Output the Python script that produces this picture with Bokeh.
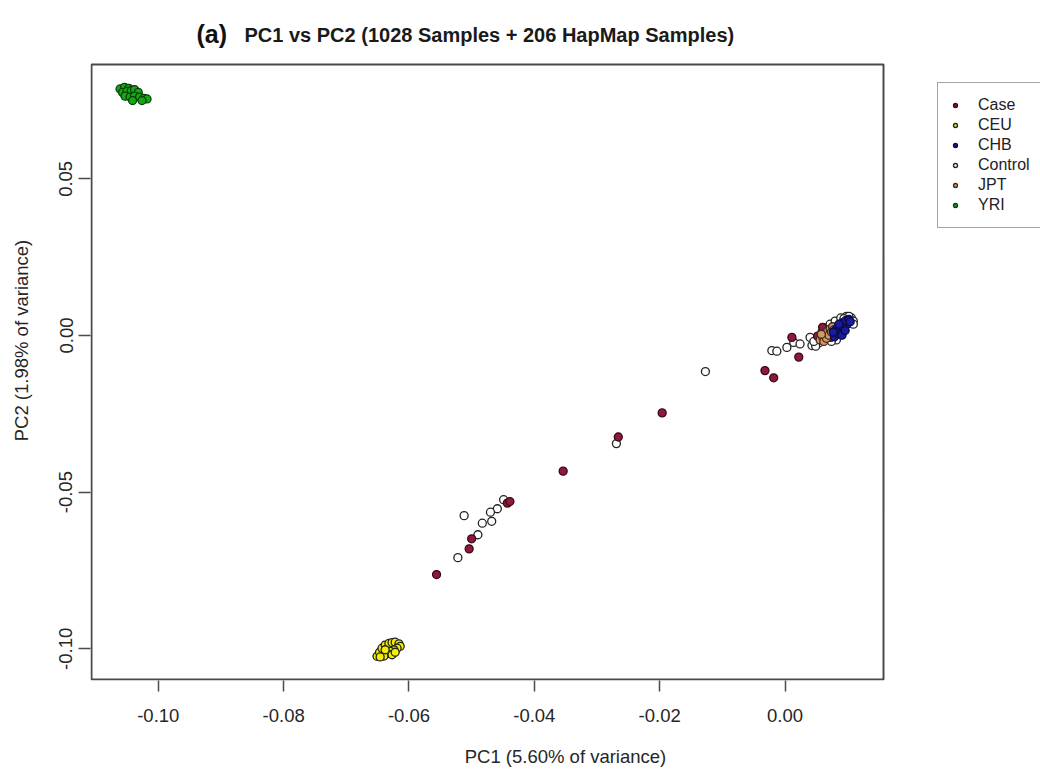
from bokeh.plotting import figure
from bokeh.models import Range1d, Legend, LegendItem, FixedTicker, BoxAnnotation, Label
from bokeh.embed import file_html
from bokeh.resources import INLINE

# ---------------- data ----------------
control_pc1 = [-0.0269, -0.0449, -0.0459, -0.0470, -0.0512, -0.0483, -0.0468, -0.0490, -0.0522, -0.0127,
               -0.0021, -0.0013, 0.0003, 0.0014, 0.0024, 0.0040, 0.0043, 0.0051,
               0.0054, 0.0059, 0.0064, 0.0072, 0.0080, 0.0089, 0.0098, 0.0106, 0.0109, 0.0109,
               0.0102, 0.0094, 0.0082, 0.0074, 0.0049, 0.0046, 0.0062, 0.0069]
control_pc2 = [-0.0345, -0.0524, -0.0553, -0.0564, -0.0575, -0.0599, -0.0593, -0.0636, -0.0709, -0.0115,
               -0.0048, -0.0050, -0.0038, -0.0022, -0.0027, -0.0006, -0.0032, -0.0016,
               -0.0024, 0.0011, 0.0024, 0.0036, 0.0046, 0.0056, 0.0061, 0.0056, 0.0046, 0.0036,
               0.0061, 0.0054, -0.0014, -0.0019, -0.0034, -0.0019, -0.0002, 0.0014]

case_pc1 = [-0.0196, -0.0266, -0.0354, -0.0443, -0.0439, -0.0500, -0.0504, -0.0556,
            0.0011, 0.0022, -0.0032, -0.0018, 0.0052, 0.0065, 0.0073, 0.0060, 0.0084]
case_pc2 = [-0.0247, -0.0324, -0.0433, -0.0535, -0.0530, -0.0649, -0.0681, -0.0763,
            -0.0006, -0.0069, -0.0112, -0.0135, -0.0002, 0.0018, -0.0006, 0.0026, 0.0016]

ceu_pc1 = [-0.0651, -0.0647, -0.0643, -0.0638, -0.0632, -0.0627, -0.0622, -0.0616, -0.0614,
           -0.0619, -0.0624, -0.0630, -0.0635, -0.0640, -0.0646, -0.0627, -0.0622, -0.0638]
ceu_pc2 = [-0.1024, -0.1011, -0.0998, -0.0988, -0.0983, -0.0980, -0.0979, -0.0984, -0.0992,
           -0.0998, -0.1003, -0.1008, -0.1016, -0.1023, -0.1026, -0.1019, -0.1011, -0.1003]

yri_pc1 = [-0.1061, -0.1054, -0.1047, -0.1057, -0.1050, -0.1043, -0.1038, -0.1032,
           -0.1053, -0.1045, -0.1038, -0.1030, -0.1023, -0.1018, -0.1041, -0.1026]
yri_pc2 = [0.0787, 0.0792, 0.0789, 0.0776, 0.0779, 0.0782, 0.0785, 0.0776,
           0.0764, 0.0761, 0.0764, 0.0761, 0.0757, 0.0755, 0.0750, 0.0750]

jpt_pc1 = [0.0056, 0.0060, 0.0064, 0.0068, 0.0072, 0.0076, 0.0062, 0.0066, 0.0070, 0.0074, 0.0078, 0.0058]
jpt_pc2 = [-0.0014, -0.0004, 0.0006, 0.0014, 0.0021, 0.0028, -0.0019, -0.0009, 0.0001, 0.0011, 0.0018, 0.0004]

chb_pc1 = [0.0079, 0.0084, 0.0089, 0.0094, 0.0099, 0.0082, 0.0087, 0.0092, 0.0097, 0.0102,
           0.0077, 0.0091, 0.0096, 0.0104, 0.0086]
chb_pc2 = [-0.0004, 0.0006, 0.0016, 0.0026, 0.0036, 0.0021, 0.0031, 0.0041, 0.0048, 0.0051,
           0.0011, 0.0001, 0.0016, 0.0044, 0.0036]

x_ticks = [-0.10, -0.08, -0.06, -0.04, -0.02, 0.00]
x_tick_labels = ["-0.10", "-0.08", "-0.06", "-0.04", "-0.02", "0.00"]
y_ticks = [-0.10, -0.05, 0.00, 0.05]
y_tick_labels = ["-0.10", "-0.05", "0.00", "0.05"]

x_title = "PC1 (5.60% of variance)"
y_title = "PC2 (1.98% of variance)"
title_tag = "(a)"
title_text = "PC1 vs PC2 (1028 Samples + 206 HapMap Samples)"

# ---------------- layout geometry (pixels) ----------------
W, H = 1040, 769
FRAME_L, FRAME_B = 90, 680          # drawing area reaches the top and right edges
PX_PER_X, X0_PX = 6267.0, 784.5      # x scale: pixels per unit, pixel of x = 0
PX_PER_Y, Y0_PX = 3133.0, 335.0      # y scale: pixels per unit, pixel of y = 0

def xd(px):
    return (px - X0_PX) / PX_PER_X

def yd(py):
    return (Y0_PX - py) / PX_PER_Y

p = figure(width=W, height=H, output_backend="svg", toolbar_location=None,
           x_range=Range1d(xd(FRAME_L), xd(W)), y_range=Range1d(yd(FRAME_B), yd(0)),
           min_border_left=FRAME_L, min_border_right=0, min_border_top=0,
           min_border_bottom=H - FRAME_B)
p.grid.visible = False
p.background_fill_color = "white"
p.border_fill_color = "white"
p.outline_line_color = None

# the plot box (R style) around the data region
p.add_layout(BoxAnnotation(left=xd(91), right=xd(883), top=yd(64), bottom=yd(679),
                           fill_color=None, fill_alpha=0,
                           line_color="#4a4a4a", line_alpha=1.0, line_width=2))

axis_font = "'Liberation Sans', Arial, sans-serif"
for ax in (p.xaxis[0], p.yaxis[0]):
    ax.axis_line_color = None
    ax.major_tick_line_color = "#4a4a4a"
    ax.major_tick_line_width = 1.5
    ax.major_tick_in = 0
    ax.minor_tick_line_color = None
    ax.major_label_text_font = axis_font
    ax.major_label_text_font_size = "18.5px"
    ax.major_label_text_color = "#262626"
    ax.axis_label_text_font = axis_font
    ax.axis_label_text_font_size = "18.5px"
    ax.axis_label_text_font_style = "normal"
    ax.axis_label_text_color = "#262626"

p.xaxis.ticker = FixedTicker(ticks=x_ticks)
p.xaxis.major_label_overrides = {t: l for t, l in zip(x_ticks, x_tick_labels)}
p.yaxis.ticker = FixedTicker(ticks=y_ticks)
p.yaxis.major_label_overrides = {t: l for t, l in zip(y_ticks, y_tick_labels)}
p.yaxis.major_label_orientation = "vertical"
p.xaxis.axis_label = x_title
p.yaxis.axis_label = y_title
p.xaxis.bounds = (xd(91), xd(883))
p.yaxis.bounds = (yd(679), yd(64))
p.xaxis.major_tick_out = 11
p.yaxis.major_tick_out = 12
p.xaxis.major_label_standoff = 17
p.xaxis.axis_label_standoff = 21
p.yaxis.major_label_standoff = 6
p.yaxis.axis_label_standoff = 25

SZ = 8
LW = 1.3
r_control = p.scatter(control_pc1, control_pc2, size=SZ, fill_color="white", line_color="#222222", line_width=LW)
r_case = p.scatter(case_pc1, case_pc2, size=SZ, fill_color="#8b1a3c", line_color="#3a0812", line_width=LW)
r_ceu = p.scatter(ceu_pc1, ceu_pc2, size=SZ, fill_color="#f2f000", line_color="#222222", line_width=LW)
r_yri = p.scatter(yri_pc1, yri_pc2, size=SZ, fill_color="#14a814", line_color="#0b3d0b", line_width=LW)
r_jpt = p.scatter(jpt_pc1, jpt_pc2, size=SZ, fill_color="#d59a62", line_color="#3a2a1a", line_width=LW)
r_chb = p.scatter(chb_pc1, chb_pc2, size=SZ, fill_color="#1a1aa0", line_color="#0a0a40", line_width=LW)

legend = Legend(items=[
    LegendItem(label="Case", renderers=[r_case]),
    LegendItem(label="CEU", renderers=[r_ceu]),
    LegendItem(label="CHB", renderers=[r_chb]),
    LegendItem(label="Control", renderers=[r_control]),
    LegendItem(label="JPT", renderers=[r_jpt]),
    LegendItem(label="YRI", renderers=[r_yri]),
], location=(937 - FRAME_L, FRAME_B - 228))
legend.border_line_color = "#4a4a4a"
legend.border_line_width = 1.5
legend.background_fill_color = "white"
legend.padding = 12
legend.margin = 0
legend.spacing = 0
legend.glyph_width = 10
legend.glyph_height = 20
legend.label_height = 20
legend.label_standoff = 18
legend.label_text_font = axis_font
legend.label_text_font_size = "16px"
legend.label_text_color = "#222222"
p.add_layout(legend)

title_font = "'Liberation Sans', Arial, sans-serif"
p.add_layout(Label(x=196 - FRAME_L, y=FRAME_B - 33, x_units="screen", y_units="screen",
                   text=title_tag, text_font=title_font, text_font_style="bold",
                   text_font_size="25px", text_baseline="middle", text_color="#111111"))
p.add_layout(Label(x=244 - FRAME_L, y=FRAME_B - 34, x_units="screen", y_units="screen",
                   text=title_text, text_font=title_font, text_font_style="bold",
                   text_font_size="20px", text_baseline="middle", text_color="#1a1a1a"))

open("out.html", "w").write(file_html(p, INLINE))
